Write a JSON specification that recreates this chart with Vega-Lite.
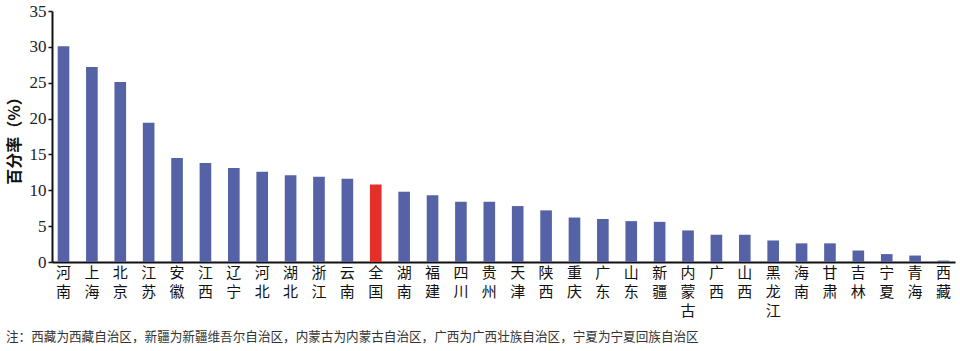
{
  "$schema": "https://vega.github.io/schema/vega-lite/v6.json",
  "autosize": {"type": "none"},
  "width": 903,
  "height": 251,
  "padding": {"left": 52, "top": 11, "right": 5, "bottom": 89},
  "background": "white",
  "data": {
    "values": [
      {"name": "河南", "value": 30.1},
      {"name": "上海", "value": 27.2},
      {"name": "北京", "value": 25.1},
      {"name": "江苏", "value": 19.4},
      {"name": "安徽", "value": 14.5},
      {"name": "江西", "value": 13.8},
      {"name": "辽宁", "value": 13.1},
      {"name": "河北", "value": 12.6},
      {"name": "湖北", "value": 12.1},
      {"name": "浙江", "value": 11.9},
      {"name": "云南", "value": 11.6},
      {"name": "全国", "value": 10.8},
      {"name": "湖南", "value": 9.8},
      {"name": "福建", "value": 9.3},
      {"name": "四川", "value": 8.4},
      {"name": "贵州", "value": 8.4},
      {"name": "天津", "value": 7.8},
      {"name": "陕西", "value": 7.2},
      {"name": "重庆", "value": 6.2},
      {"name": "广东", "value": 6.0},
      {"name": "山东", "value": 5.7},
      {"name": "新疆", "value": 5.6},
      {"name": "内蒙古", "value": 4.4},
      {"name": "广西", "value": 3.8},
      {"name": "山西", "value": 3.8},
      {"name": "黑龙江", "value": 3.0},
      {"name": "海南", "value": 2.6},
      {"name": "甘肃", "value": 2.6},
      {"name": "吉林", "value": 1.6},
      {"name": "宁夏", "value": 1.1},
      {"name": "青海", "value": 0.9},
      {"name": "西藏", "value": 0.2}
    ]
  },
  "title": {
    "text": "注：西藏为西藏自治区，新疆为新疆维吾尔自治区，内蒙古为内蒙古自治区，广西为广西壮族自治区，宁夏为宁夏回族自治区",
    "orient": "bottom",
    "anchor": "start",
    "frame": "bounds",
    "font": "Noto Sans CJK SC",
    "fontSize": 12.6,
    "fontWeight": "normal",
    "color": "#333333",
    "offset": 13
  },
  "mark": {"type": "bar"},
  "encoding": {
    "x": {
      "field": "name",
      "type": "nominal",
      "sort": null,
      "scale": {"paddingInner": 0.59, "paddingOuter": 0.2},
      "axis": {
        "title": null,
        "labelAngle": 0,
        "labelExpr": "split(datum.label, '')",
        "labelFont": "Noto Sans CJK SC",
        "labelFontSize": 15,
        "labelLineHeight": 19,
        "labelColor": "#111111",
        "labelBaseline": "top",
        "labelPadding": 3,
        "ticks": false,
        "domainColor": "#111111",
        "domainWidth": 2,
        "grid": false
      }
    },
    "y": {
      "field": "value",
      "type": "quantitative",
      "scale": {"domain": [0, 35], "nice": false},
      "axis": {
        "title": "百分率（%）",
        "titleFont": "Noto Sans CJK SC",
        "titleFontSize": 16,
        "titleFontWeight": "bold",
        "titleColor": "#111111",
        "titlePadding": 7,
        "values": [0, 5, 10, 15, 20, 25, 30, 35],
        "labelFont": "Liberation Serif",
        "labelFontSize": 17,
        "labelColor": "#222222",
        "labelPadding": 2,
        "tickSize": 4,
        "tickColor": "#111111",
        "tickWidth": 1.5,
        "domainColor": "#111111",
        "domainWidth": 2,
        "grid": false
      }
    },
    "color": {
      "condition": {"test": "datum.name === '全国'", "value": "#e3302b"},
      "value": "#5563a6"
    }
  },
  "config": {"view": {"stroke": null}}
}
